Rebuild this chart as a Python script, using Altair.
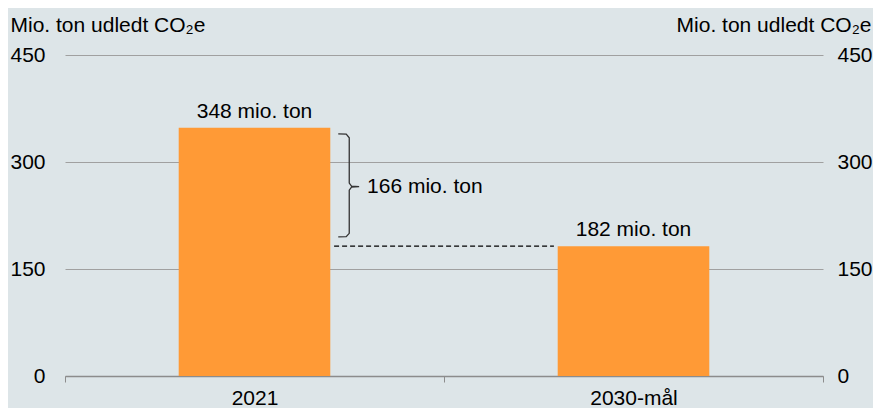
import altair as alt
import pandas as pd

# ---- data ----
categories = ["2021", "2030-mål"]
values = [348, 182]
bar_labels = ["348 mio. ton", "182 mio. ton"]
y_ticks = [0, 150, 300, 450]
axis_title = "Mio. ton udledt CO₂e"

diff_label = "166 mio. ton"
diff_x = [0.797]
diff_y = [265.5]

# curly bracket outline (x in band units 0..2, y in data units)
bracket_x = [0.721, 0.742, 0.750, 0.750, 0.756, 0.776, 0.756, 0.750, 0.750, 0.742, 0.721]
bracket_y = [339.5, 339.0, 334.0, 270.5, 266.2, 265.5, 264.8, 260.5, 200.0, 195.3, 195.0]

# dashed connector at the 2030 level
gap_x = [0.71]
gap_x2 = [1.29]
gap_y = [182]

FONT = "Liberation Sans"
ORANGE = "#FF9A36"
BG = "#DDE5E8"
FS = 21

bars_df = pd.DataFrame({"cat": categories, "value": values, "label": bar_labels})
bracket_df = pd.DataFrame({"o": list(range(len(bracket_x))), "bx": bracket_x, "by": bracket_y})
gap_df = pd.DataFrame({"gx": gap_x, "gx2": gap_x2, "gy": gap_y})
diff_df = pd.DataFrame({"tx": diff_x, "ty": diff_y, "t": [diff_label]})

xband = alt.Scale(domain=categories, paddingInner=0, paddingOuter=0)
yscale = alt.Scale(domain=[0, 450], nice=False)
qscale = alt.Scale(domain=[0, 2], nice=False, zero=False)

bars = alt.Chart(bars_df).mark_bar(color=ORANGE, width=alt.RelativeBandSize(0.4)).encode(
    x=alt.X("cat:N", scale=xband, sort=categories,
            axis=alt.Axis(title=None, labelAngle=0, tickBand="extent", domainColor="#8C8C8C",
                          domainWidth=1.5, tickColor="#8C8C8C", tickWidth=1, tickSize=6,
                          labelPadding=5, labelFontSize=FS, labelColor="black",
                          labelBaseline="top", labelFont=FONT)),
    y=alt.Y("value:Q", scale=yscale,
            axis=alt.Axis(orient="left", values=y_ticks, title=axis_title, grid=True,
                          gridColor="#A0A0A0", gridWidth=1, domain=False, ticks=False,
                          tickSize=0, labelPadding=20, labelFontSize=FS, labelColor="black",
                          labelFont=FONT, titleFont=FONT, titleFontSize=FS,
                          titleFontWeight="normal", titleColor="black", titleAngle=0,
                          titleAlign="left", titleBaseline="alphabetic", titleX=-55, titleY=-24)),
)

labels = alt.Chart(bars_df).mark_text(dy=-10, baseline="alphabetic", fontSize=FS, font=FONT,
                                       color="black").encode(
    x=alt.X("cat:N", scale=xband, sort=categories, axis=None),
    y=alt.Y("value:Q", scale=yscale,
            axis=alt.Axis(orient="right", values=y_ticks, title=axis_title, grid=False,
                          domain=False, ticks=False, tickSize=0, labelPadding=14,
                          labelFontSize=FS, labelColor="black", labelFont=FONT,
                          titleFont=FONT, titleFontSize=FS, titleFontWeight="normal",
                          titleColor="black", titleAngle=0, titleAlign="right",
                          titleBaseline="alphabetic", titleX=48, titleY=-24)),
    text="label:N",
)

bracket = alt.Chart(bracket_df).mark_line(color="#333333", strokeWidth=1.3).encode(
    x=alt.X("bx:Q", scale=qscale, axis=None),
    y=alt.Y("by:Q", scale=yscale, axis=None),
    order="o:Q",
)

gap = alt.Chart(gap_df).mark_rule(color="black", strokeWidth=1.3, strokeDash=[5, 3]).encode(
    x=alt.X("gx:Q", scale=qscale, axis=None),
    x2="gx2:Q",
    y=alt.Y("gy:Q", scale=yscale, axis=None),
)

diff = alt.Chart(diff_df).mark_text(align="left", baseline="middle", fontSize=FS, font=FONT,
                                     color="black").encode(
    x=alt.X("tx:Q", scale=qscale, axis=None),
    y=alt.Y("ty:Q", scale=yscale, axis=None),
    text="t:N",
)

chart = alt.layer(bars, labels, bracket, gap, diff).resolve_scale(
    x="independent"
).resolve_axis(
    y="independent"
).properties(
    width=758, height=321,
    padding={"left": 57, "top": 47, "right": 50, "bottom": 32},
    autosize=alt.AutoSizeParams(type="none"),
).configure(background=BG).configure_view(stroke=None)

chart.save("out.html", embed_options={"renderer": "svg", "actions": False})
